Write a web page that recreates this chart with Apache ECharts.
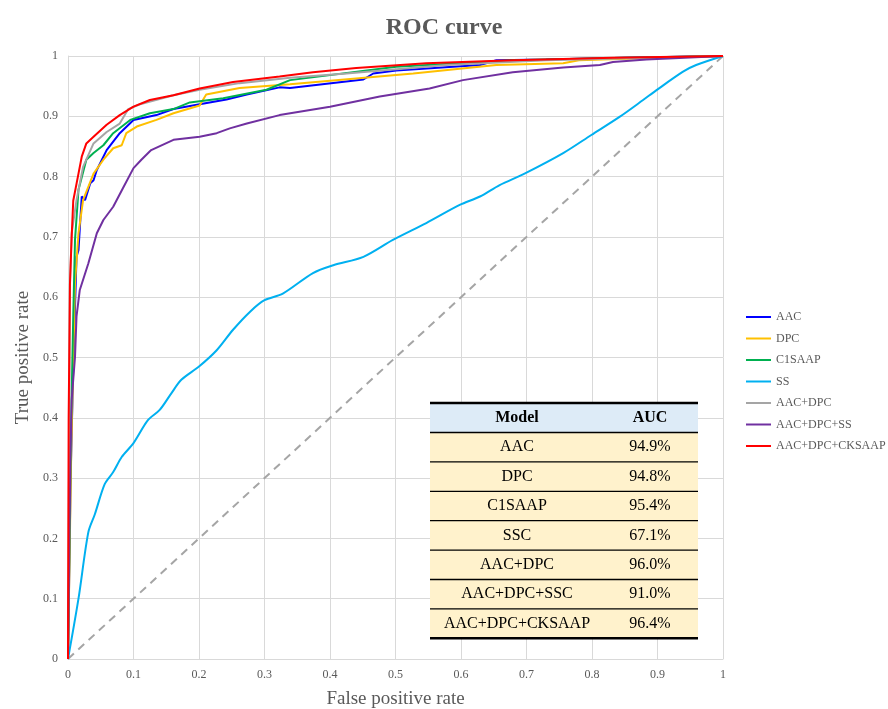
<!DOCTYPE html>
<html>
<head>
<meta charset="utf-8">
<script src="https://cdn.jsdelivr.net/npm/echarts@6/dist/echarts.min.js"></script>
<style>html,body{margin:0;padding:0;background:#fff}#c{width:888px;height:709px}</style>
</head>
<body>
<div id="c"></div>
<script>
const seriesNames = ['AAC','DPC','C1SAAP','SS','AAC+DPC','AAC+DPC+SS','AAC+DPC+CKSAAP'];
const seriesColors = ['#0000FF','#FFC000','#00B050','#00B0F0','#A5A5A5','#7030A0','#FF0000'];

const aac = [[0,0],[0.004,0.3],[0.008,0.485],[0.013,0.667],[0.016,0.678],[0.021,0.767],[0.026,0.761],[0.034,0.789],[0.039,0.794],[0.044,0.811],[0.059,0.844],[0.079,0.872],[0.1,0.894],[0.135,0.902],[0.161,0.912],[0.201,0.92],[0.242,0.928],[0.273,0.936],[0.323,0.948],[0.339,0.947],[0.451,0.961],[0.466,0.971],[0.501,0.976],[0.629,0.985],[0.654,0.993],[0.73,0.994],[0.85,0.997],[1,1]];
const dpc = [[0,0],[0.005,0.35],[0.0107,0.623],[0.016,0.706],[0.023,0.761],[0.039,0.805],[0.054,0.828],[0.069,0.847],[0.082,0.852],[0.089,0.872],[0.105,0.883],[0.135,0.894],[0.161,0.905],[0.201,0.918],[0.211,0.936],[0.262,0.947],[0.339,0.953],[0.527,0.971],[0.654,0.985],[0.756,0.988],[0.78,0.993],[0.9,0.997],[1,1]];
const c1saap = [[0,0],[0.004,0.35],[0.008,0.568],[0.0107,0.695],[0.016,0.778],[0.028,0.828],[0.039,0.839],[0.054,0.852],[0.069,0.872],[0.095,0.894],[0.125,0.905],[0.161,0.912],[0.186,0.923],[0.237,0.93],[0.303,0.944],[0.339,0.96],[0.501,0.982],[0.679,0.993],[0.85,0.997],[1,1]];
const ss = [[0,0],[0.016,0.10],[0.031,0.21],[0.041,0.24],[0.056,0.29],[0.069,0.31],[0.082,0.335],[0.1,0.358],[0.122,0.396],[0.14,0.413],[0.158,0.441],[0.173,0.463],[0.2,0.485],[0.227,0.512],[0.252,0.546],[0.278,0.576],[0.3,0.595],[0.328,0.606],[0.374,0.64],[0.405,0.653],[0.451,0.667],[0.496,0.695],[0.547,0.723],[0.598,0.753],[0.629,0.767],[0.659,0.786],[0.697,0.805],[0.756,0.839],[0.799,0.869],[0.842,0.899],[0.878,0.927],[0.898,0.943],[0.939,0.974],[0.959,0.985],[1,1]];
const aacDpc = [[0,0],[0.002,0.4],[0.003,0.62],[0.0056,0.706],[0.013,0.761],[0.023,0.816],[0.039,0.855],[0.059,0.874],[0.079,0.888],[0.092,0.912],[0.11,0.92],[0.161,0.935],[0.201,0.944],[0.262,0.955],[0.339,0.964],[0.425,0.971],[0.578,0.985],[0.73,0.993],[1,1]];
const aacDpcSs = [[0,0],[0.002,0.2],[0.004,0.35],[0.0056,0.43],[0.0107,0.501],[0.013,0.568],[0.018,0.612],[0.031,0.656],[0.044,0.706],[0.054,0.728],[0.069,0.75],[0.084,0.781],[0.1,0.814],[0.112,0.828],[0.127,0.844],[0.161,0.861],[0.201,0.866],[0.227,0.872],[0.247,0.88],[0.273,0.888],[0.323,0.902],[0.4,0.916],[0.476,0.933],[0.552,0.946],[0.603,0.96],[0.679,0.973],[0.756,0.981],[0.812,0.985],[0.832,0.99],[0.883,0.994],[1,1]];
const aacDpcCksaap = [[0,0],[0.001,0.4],[0.003,0.623],[0.0056,0.70],[0.008,0.76],[0.016,0.805],[0.021,0.833],[0.028,0.855],[0.039,0.866],[0.059,0.886],[0.079,0.902],[0.1,0.916],[0.125,0.927],[0.161,0.935],[0.201,0.946],[0.252,0.957],[0.323,0.966],[0.374,0.973],[0.44,0.98],[0.547,0.988],[0.679,0.993],[0.832,0.997],[1,1]];
const chanceLine = [[0,0],[1,1]];

const tableHeader = ['Model','AUC'];
const tableModels = ['AAC','DPC','C1SAAP','SSC','AAC+DPC','AAC+DPC+SSC','AAC+DPC+CKSAAP'];
const tableAUC = ['94.9%','94.8%','95.4%','67.1%','96.0%','91.0%','96.4%'];

const allData = [aac, dpc, c1saap, ss, aacDpc, aacDpcSs, aacDpcCksaap];
const FONT = "'Liberation Serif', 'DejaVu Serif', serif";
const TXT = '#595959';

const series = [{
  name: 'chance', type: 'line', data: chanceLine, symbol: 'none', silent: true,
  lineStyle: { color: '#A5A5A5', width: 2, type: [8, 6] }, z: 1
}];
allData.forEach((d, i) => {
  series.push({
    name: seriesNames[i], type: 'line', data: d, symbol: 'none',
    smooth: i === 3 ? 0.3 : false,
    lineStyle: { color: seriesColors[i], width: 2 }, itemStyle: { color: seriesColors[i] },
    z: 2 + i
  });
});

// table graphic
const tx0 = 430, tx1 = 698, ty0 = 403, hh = 29.5, rh = 29.4;
const col1 = 517, col2 = 650;
const TF = 16;
const g = [];
g.push({ type: 'rect', shape: { x: tx0, y: ty0, width: tx1 - tx0, height: hh }, style: { fill: '#DDEBF7' }, z: 100 });
g.push({ type: 'rect', shape: { x: tx0, y: ty0 + hh, width: tx1 - tx0, height: rh * tableModels.length }, style: { fill: '#FFF2CC' }, z: 100 });
g.push({ type: 'text', x: col1, y: ty0 + hh / 2, style: { text: tableHeader[0], font: 'bold ' + TF + 'px ' + FONT, fill: '#000', align: 'center', verticalAlign: 'middle' }, z: 102 });
g.push({ type: 'text', x: col2, y: ty0 + hh / 2, style: { text: tableHeader[1], font: 'bold ' + TF + 'px ' + FONT, fill: '#000', align: 'center', verticalAlign: 'middle' }, z: 102 });
tableModels.forEach((m, i) => {
  const cy = ty0 + hh + rh * i + rh / 2;
  g.push({ type: 'text', x: col1, y: cy, style: { text: m, font: TF + 'px ' + FONT, fill: '#000', align: 'center', verticalAlign: 'middle' }, z: 102 });
  g.push({ type: 'text', x: col2, y: cy, style: { text: tableAUC[i], font: TF + 'px ' + FONT, fill: '#000', align: 'center', verticalAlign: 'middle' }, z: 102 });
});
for (let i = 0; i <= tableModels.length + 1; i++) {
  const y = i === 0 ? ty0 : ty0 + hh + rh * (i - 1);
  const thick = (i === 0 || i === tableModels.length + 1);
  g.push({ type: 'line', shape: { x1: tx0, y1: y, x2: tx1, y2: y }, style: { stroke: '#000', lineWidth: thick ? 2.4 : 1.3 }, z: 103 });
}

const chart = echarts.init(document.getElementById('c'), null, { renderer: 'canvas' });
chart.setOption({
  animation: false,
  backgroundColor: '#fff',
  textStyle: { fontFamily: FONT },
  title: {
    text: 'ROC curve', left: 'center', top: 11,
    textStyle: { fontFamily: FONT, fontSize: 24, fontWeight: 'bold', color: TXT }
  },
  legend: {
    data: seriesNames, orient: 'vertical', left: 740, top: 306,
    itemWidth: 25, itemHeight: 14, itemGap: 9.5,
    itemStyle: { opacity: 0 },
    textStyle: { fontFamily: FONT, fontSize: 12, color: TXT }
  },
  grid: { left: 68, right: 165, top: 56, bottom: 50, containLabel: false, outerBoundsMode: 'none' },
  xAxis: {
    type: 'value', min: 0, max: 1, interval: 0.1,
    name: 'False positive rate', nameLocation: 'middle', nameGap: 31,
    nameTextStyle: { fontFamily: FONT, fontSize: 19, color: TXT },
    axisLine: { lineStyle: { color: '#D9D9D9', width: 1 } },
    axisTick: { show: false },
    axisLabel: { fontFamily: FONT, fontSize: 12, color: TXT, margin: 10 },
    splitLine: { show: true, lineStyle: { color: '#D9D9D9', width: 1 } }
  },
  yAxis: {
    type: 'value', min: 0, max: 1, interval: 0.1,
    name: 'True positive rate', nameLocation: 'middle', nameGap: 34,
    nameTextStyle: { fontFamily: FONT, fontSize: 19, color: TXT },
    axisLine: { show: true, lineStyle: { color: '#D9D9D9', width: 1 } },
    axisTick: { show: false },
    axisLabel: { fontFamily: FONT, fontSize: 12, color: TXT, margin: 10 },
    splitLine: { show: true, lineStyle: { color: '#D9D9D9', width: 1 } }
  },
  series: series,
  graphic: g
});
</script>
</body>
</html>
